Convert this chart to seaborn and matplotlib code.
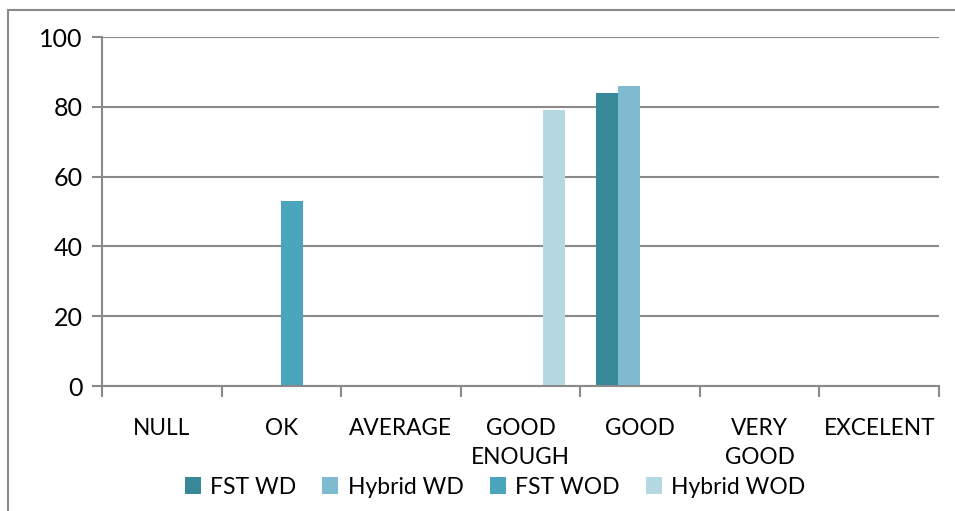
import matplotlib
matplotlib.use("Agg")
import matplotlib.pyplot as plt
import seaborn as sns
import pandas as pd
from matplotlib.lines import Line2D
from matplotlib.ticker import FixedLocator

categories = ["NULL", "OK", "AVERAGE", "GOOD\nENOUGH", "GOOD", "VERY\nGOOD", "EXCELENT"]
series = ["FST WD", "Hybrid WD", "FST WOD", "Hybrid WOD"]
fst_wd = [0, 0, 0, 0, 84, 0, 0]
hybrid_wd = [0, 0, 0, 0, 86, 0, 0]
fst_wod = [0, 53, 0, 0, 0, 0, 0]
hybrid_wod = [0, 0, 0, 79, 0, 0, 0]
colors = ["#378899", "#7EBBD0", "#4AA5BD", "#B6D8E3"]

rows = []
for s, vals in zip(series, [fst_wd, hybrid_wd, fst_wod, hybrid_wod]):
    for c, v in zip(categories, vals):
        rows.append({"cat": c, "series": s, "val": v})
df = pd.DataFrame(rows)

sns.set_theme(style="white")
plt.rcParams["font.family"] = ["Lato", "DejaVu Sans"]
plt.rcParams["text.color"] = "black"
plt.rcParams["xtick.color"] = "black"
plt.rcParams["ytick.color"] = "black"

fig = plt.figure(figsize=(9.55, 5.11), dpi=100)
ax = fig.add_axes([102/955, 1-386/511, (939-102)/955, (386-37)/511])

sns.barplot(data=df, x="cat", y="val", hue="series", order=categories,
            hue_order=series, palette=colors, width=0.736, linewidth=0,
            saturation=1, ax=ax, legend=True)

ax.set_xlim(-0.5, 6.5)
ax.set_ylim(0, 100)
ax.set_yticks([0, 20, 40, 60, 80, 100])
ax.set_xlabel("")
ax.set_ylabel("")
grid_c = "#8A8A8A"
ax.yaxis.grid(True, color=grid_c, linewidth=1.5)
ax.set_axisbelow(True)
for sp in ["top", "right"]:
    ax.spines[sp].set_visible(False)
for sp in ["left", "bottom"]:
    ax.spines[sp].set_color(grid_c)
    ax.spines[sp].set_linewidth(1.5)

ax.tick_params(axis="y", which="major", length=7, width=1.5, color=grid_c,
               labelsize=18, pad=7, left=True, labelcolor="black")
ax.tick_params(axis="x", which="major", length=0, labelsize=16.3, pad=23,
               labelcolor="black")
ax.xaxis.set_minor_locator(FixedLocator([i - 0.5 for i in range(8)]))
ax.tick_params(axis="x", which="minor", length=8, width=1.5, color=grid_c, bottom=True)
for lbl in ax.get_xticklabels():
    lbl.set_linespacing(1.45)
    lbl.set_verticalalignment("top")

leg = ax.legend(loc="center", bbox_to_anchor=(495/955, 1-487/511),
                bbox_transform=fig.transFigure, ncol=4,
                frameon=False, fontsize=16.5, handlelength=0.7, handleheight=0.7,
                handletextpad=0.4, columnspacing=1.15, borderaxespad=0)

# outer border
fig.add_artist(Line2D([8/955, 8/955], [0, 1-10/511], transform=fig.transFigure,
                      color=grid_c, linewidth=1.5))
fig.add_artist(Line2D([8/955, 1], [1-10/511, 1-10/511], transform=fig.transFigure,
                      color=grid_c, linewidth=1.5))

fig.savefig("out.png", dpi=100)
